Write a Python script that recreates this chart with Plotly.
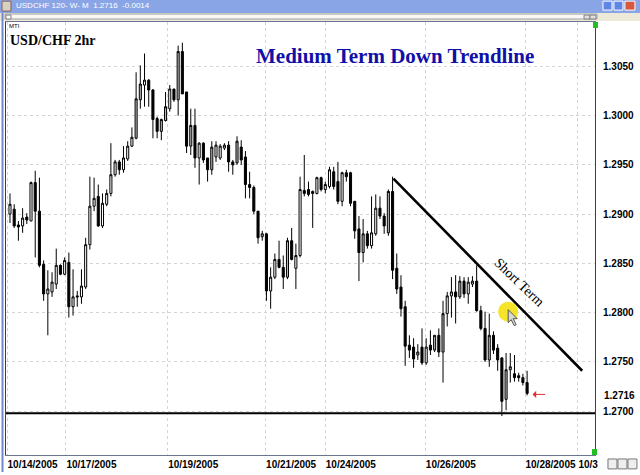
import plotly.graph_objects as go

# ---------------- data (USD/CHF 2-hour candles) ----------------
opens = [1.2900, 1.2905, 1.2889, 1.2888, 1.2897, 1.2893, 1.2932, 1.2903, 1.2849, 1.2819,
         1.2821, 1.2829, 1.2848, 1.2839, 1.2851, 1.2806, 1.2817, 1.2816, 1.2826, 1.2869,
         1.2908, 1.2918, 1.2888, 1.2910, 1.2921, 1.2940, 1.2953, 1.2945, 1.2956, 1.2969,
         1.2977, 1.3016, 1.3031, 1.3036, 1.3026, 1.2997, 1.2984, 1.2995, 1.3007, 1.3027,
         1.3016, 1.3065, 1.3024, 1.2969, 1.2990, 1.2957, 1.2972, 1.2957, 1.2945, 1.2958,
         1.2957, 1.2967, 1.2970, 1.2953, 1.2952, 1.2968, 1.2958, 1.2930, 1.2927, 1.2903,
         1.2877, 1.2880, 1.2822, 1.2836, 1.2854, 1.2846, 1.2836, 1.2873, 1.2845, 1.2858,
         1.2924, 1.2925, 1.2923, 1.2921, 1.2937, 1.2925, 1.2928, 1.2943, 1.2933, 1.2913,
         1.2942, 1.2942, 1.2913, 1.2885, 1.2861, 1.2880, 1.2868, 1.2880, 1.2906, 1.2898,
         1.2881, 1.2923, 1.2845, 1.2826, 1.2806, 1.2767, 1.2765, 1.2757, 1.2765, 1.2749,
         1.2767, 1.2762, 1.2777, 1.2760, 1.2799, 1.2817, 1.2821, 1.2816, 1.2832, 1.2819,
         1.2829, 1.2832, 1.2802, 1.2784, 1.2752, 1.2777, 1.2764, 1.2754, 1.2712, 1.2742,
         1.2738, 1.2736, 1.2734, 1.2729]
highs = [1.2921, 1.2910, 1.2893, 1.2906, 1.2901, 1.2933, 1.2944, 1.2937, 1.2853, 1.2843,
         1.2841, 1.2865, 1.2849, 1.2856, 1.2861, 1.2844, 1.2822, 1.2844, 1.2876, 1.2938,
         1.2937, 1.2930, 1.2921, 1.2925, 1.2972, 1.2955, 1.2955, 1.2969, 1.2974, 1.2988,
         1.3044, 1.3051, 1.3063, 1.3037, 1.3027, 1.2999, 1.2997, 1.3024, 1.3031, 1.3027,
         1.3071, 1.3074, 1.3024, 1.3007, 1.3007, 1.2973, 1.2973, 1.2957, 1.2974, 1.2974,
         1.2971, 1.2972, 1.2974, 1.2955, 1.2979, 1.2975, 1.2964, 1.2943, 1.2929, 1.2903,
         1.2883, 1.2881, 1.2846, 1.2860, 1.2873, 1.2858, 1.2876, 1.2886, 1.2870, 1.2938,
         1.2960, 1.2933, 1.2924, 1.2938, 1.2938, 1.2933, 1.2948, 1.2948, 1.2953, 1.2943,
         1.2945, 1.2943, 1.2913, 1.2898, 1.2895, 1.2883, 1.2918, 1.2920, 1.2918, 1.2901,
         1.2925, 1.2938, 1.2860, 1.2838, 1.2812, 1.2777, 1.2774, 1.2768, 1.2784, 1.2774,
         1.2782, 1.2777, 1.2784, 1.2812, 1.2821, 1.2836, 1.2838, 1.2837, 1.2836, 1.2836,
         1.2837, 1.2848, 1.2807, 1.2801, 1.2799, 1.2781, 1.2768, 1.2755, 1.2759, 1.2759,
         1.2757, 1.2739, 1.2738, 1.2741]
lows = [1.2891, 1.2886, 1.2873, 1.2881, 1.2890, 1.2893, 1.2856, 1.2846, 1.2812, 1.2777,
        1.2816, 1.2824, 1.2838, 1.2838, 1.2795, 1.2797, 1.2806, 1.2809, 1.2824, 1.2864,
        1.2903, 1.2887, 1.2886, 1.2908, 1.2918, 1.2938, 1.2940, 1.2942, 1.2954, 1.2968,
        1.2976, 1.3007, 1.3009, 1.3009, 1.2977, 1.2977, 1.2975, 1.2994, 1.3004, 1.3014,
        1.3000, 1.3022, 1.2962, 1.2960, 1.2947, 1.2930, 1.2952, 1.2933, 1.2940, 1.2953,
        1.2955, 1.2965, 1.2943, 1.2940, 1.2950, 1.2950, 1.2916, 1.2916, 1.2900, 1.2870,
        1.2873, 1.2812, 1.2804, 1.2834, 1.2845, 1.2824, 1.2834, 1.2853, 1.2824, 1.2856,
        1.2918, 1.2918, 1.2886, 1.2920, 1.2923, 1.2921, 1.2926, 1.2925, 1.2910, 1.2908,
        1.2933, 1.2908, 1.2875, 1.2832, 1.2851, 1.2865, 1.2865, 1.2878, 1.2895, 1.2880,
        1.2878, 1.2834, 1.2819, 1.2796, 1.2746, 1.2754, 1.2744, 1.2752, 1.2747, 1.2747,
        1.2757, 1.2760, 1.2755, 1.2729, 1.2786, 1.2795, 1.2789, 1.2814, 1.2815, 1.2809,
        1.2826, 1.2801, 1.2782, 1.2750, 1.2745, 1.2758, 1.2741, 1.2695, 1.2701, 1.2729,
        1.2730, 1.2730, 1.2726, 1.2716]
closes = [1.2910, 1.2888, 1.2887, 1.2896, 1.2894, 1.2932, 1.2903, 1.2848, 1.2819, 1.2824,
          1.2831, 1.2848, 1.2839, 1.2853, 1.2806, 1.2816, 1.2816, 1.2827, 1.2869, 1.2908,
          1.2916, 1.2888, 1.2911, 1.2921, 1.2940, 1.2953, 1.2945, 1.2957, 1.2969, 1.2978,
          1.3017, 1.3032, 1.3036, 1.3026, 1.2996, 1.2984, 1.2996, 1.3009, 1.3027, 1.3016,
          1.3065, 1.3022, 1.2969, 1.2990, 1.2957, 1.2972, 1.2955, 1.2945, 1.2968, 1.2970,
          1.2969, 1.2970, 1.2953, 1.2950, 1.2974, 1.2955, 1.2930, 1.2927, 1.2903, 1.2876,
          1.2880, 1.2822, 1.2836, 1.2854, 1.2846, 1.2836, 1.2873, 1.2854, 1.2858, 1.2925,
          1.2921, 1.2920, 1.2921, 1.2937, 1.2925, 1.2930, 1.2945, 1.2928, 1.2913, 1.2942,
          1.2938, 1.2911, 1.2883, 1.2861, 1.2880, 1.2868, 1.2881, 1.2906, 1.2898, 1.2888,
          1.2923, 1.2843, 1.2824, 1.2804, 1.2766, 1.2762, 1.2753, 1.2760, 1.2749, 1.2765,
          1.2762, 1.2777, 1.2760, 1.2799, 1.2817, 1.2821, 1.2816, 1.2832, 1.2819, 1.2831,
          1.2832, 1.2802, 1.2784, 1.2752, 1.2777, 1.2762, 1.2752, 1.2710, 1.2742, 1.2745,
          1.2734, 1.2734, 1.2729, 1.2718]
gray_up = [30, 31, 36, 37, 40, 43, 48, 54, 66, 84, 90, 101, 103, 107, 114, 118]

date_pos = [-0.7, 13.3, 37.5, 60.8, 75.0, 98.8, 122.5, 135.1]
date_labels = ["10/14/2005", "10/17/2005", "10/19/2005", "10/21/2005",
               "10/24/2005", "10/26/2005", "10/28/2005", "10/3"]
price_ticks = [1.2700, 1.2750, 1.2800, 1.2850, 1.2900, 1.2950, 1.3000, 1.3050]
last_price = 1.2716
support_level = 1.2698
trend_x = [91.2, 136.1]
trend_y = [1.2936, 1.2741]
trend_label_pos = (121.2, 1.2831)
cursor_pos = (118.5, 1.2801)
arrow_pos = (124.3, 1.2717)

# ---------------- figure ----------------
idx = list(range(len(opens)))
main_i = [i for i in idx if i not in gray_up]
gray_i = gray_up

fig = go.Figure()


def candle(ids, up_fill):
    return go.Candlestick(
        x=ids,
        open=[opens[i] for i in ids], high=[highs[i] for i in ids],
        low=[lows[i] for i in ids], close=[closes[i] for i in ids],
        increasing=dict(fillcolor=up_fill, line=dict(color="#000000", width=1)),
        decreasing=dict(fillcolor="#000000", line=dict(color="#000000", width=1)),
        whiskerwidth=0, showlegend=False, hoverinfo="skip")


fig.add_trace(candle(main_i, "#ffffff"))
fig.add_trace(candle(gray_i, "#b8b8b8"))

fig.add_trace(go.Scatter(x=trend_x, y=trend_y, mode="lines",
                         line=dict(color="#000000", width=2.6),
                         showlegend=False, hoverinfo="skip"))

PL, PR, PT, PB = 5, 595, 22, 458


def px_x(x):
    return (x - PL) / (PR - PL)


def px_y(y):
    return (PB - y) / (PB - PT)


shapes = []
# support line
shapes.append(dict(type="line", xref="paper", yref="y", x0=0, x1=1,
                   y0=support_level, y1=support_level,
                   line=dict(color="#000000", width=2)))
# yellow cursor highlight
shapes.append(dict(type="circle", xref="x", yref="y", xsizemode="pixel", ysizemode="pixel",
                   xanchor=cursor_pos[0], yanchor=cursor_pos[1],
                   x0=-10, x1=10, y0=-10, y1=10,
                   fillcolor="#f4e31e", line=dict(width=0), opacity=0.95))
shapes.append(dict(type="path", xref="x", yref="y", xsizemode="pixel", ysizemode="pixel",
                   xanchor=cursor_pos[0], yanchor=cursor_pos[1],
                   path="M0,2 L0,-11 L3,-8 L6,-14 L8,-13 L5,-7 L9,-7 Z",
                   fillcolor="#d8d8d8", line=dict(color="#555555", width=1)))


def rect(x0, y0, x1, y1, fill, line=None, lw=0):
    shapes.append(dict(type="rect", xref="paper", yref="paper",
                       x0=px_x(x0), x1=px_x(x1), y0=px_y(y1), y1=px_y(y0),
                       fillcolor=fill, line=dict(color=line or fill, width=lw), layer="above"))


# window chrome
rect(-6, -2, 646, 13, "#8aa5e6")
rect(1, 1, 10, 11, "#d8d0c0", "#806060", 1)
rect(603, 1, 612, 10, "#5f86e6", "#ffffff", 1)
rect(614, 1, 623, 10, "#5f86e6", "#ffffff", 1)
rect(625, 1, 635, 10, "#d8583e", "#ffffff", 1)
rect(-6, 13, 646, 21, "#ece9d8")
rect(4, 14, 597, 19, "#f8f8f4", "#a0a0a0", 1)
rect(5, 15, 10, 19, "#ffffff", "#808080", 1)
rect(584, 15, 590, 19, "#e0e0e0", "#808080", 1)
rect(590, 15, 596, 19, "#e0e0e0", "#808080", 1)
rect(593, 22, 598, 28, "#20c020")
rect(592, 452, 597, 458, "#20c020")
rect(608, 462, 617, 472, "#eeeeee", "#777777", 1)
rect(618, 462, 627, 472, "#eeeeee", "#777777", 1)
rect(628, 462, 637, 472, "#eeeeee", "#777777", 1)
shapes.append(dict(type="line", xref="paper", yref="paper", x0=px_x(1.5), x1=px_x(1.5),
                   y0=px_y(475), y1=px_y(13), line=dict(color="#6f88cf", width=2)))

annotations = [
    dict(text="Medium Term Down Trendline", xref="paper", yref="paper",
         x=px_x(395), y=px_y(56), showarrow=False, xanchor="center", yanchor="middle",
         font=dict(family="Liberation Serif, Times New Roman, serif", size=21,
                   color="#1010a8", weight="bold")),
    dict(text="USD/CHF 2hr", xref="paper", yref="paper",
         x=px_x(7), y=px_y(40.5), showarrow=False, xanchor="left", yanchor="middle",
         font=dict(family="Liberation Serif, Times New Roman, serif", size=14,
                   color="#000000", weight="bold")),
    dict(text="MTI", xref="paper", yref="paper",
         x=px_x(6), y=px_y(26.5), showarrow=False, xanchor="left", yanchor="middle",
         font=dict(family="Liberation Sans, Arial, sans-serif", size=6, color="#000000")),
    dict(text="USDCHF 120- W- M  1.2716  -0.0014", xref="paper", yref="paper",
         x=px_x(13), y=px_y(5.5), showarrow=False, xanchor="left", yanchor="middle",
         font=dict(family="Liberation Sans, Arial, sans-serif", size=8, color="#ffffff")),
    dict(text="Short Term", x=trend_label_pos[0], y=trend_label_pos[1], xref="x", yref="y",
         showarrow=False, textangle=44,
         font=dict(family="Liberation Serif, Times New Roman, serif", size=14, color="#000000")),
    dict(text=f"{last_price:.4f}", xref="paper", yref="y", x=1, y=last_price,
         xanchor="left", yanchor="middle", xshift=7, showarrow=False,
         font=dict(family="Liberation Sans, Arial, sans-serif", size=10,
                   color="#000000", weight="bold")),
    dict(text="", x=arrow_pos[0], y=arrow_pos[1], xref="x", yref="y",
         ax=14, ay=0, showarrow=True, arrowhead=1, arrowsize=1.2, arrowwidth=1,
         arrowcolor="#e03030"),
]

tickfont = dict(family="Liberation Sans, Arial, sans-serif", size=10,
                color="#000000", weight="bold")

fig.update_layout(
    width=640, height=475, autosize=False,
    margin=dict(l=PL, r=640 - PR, t=PT, b=475 - PB, pad=0),
    paper_bgcolor="#ffffff", plot_bgcolor="#ffffff",
    shapes=shapes, annotations=annotations, showlegend=False,
    xaxis=dict(range=[-0.95, 139.15], tickmode="array", tickvals=date_pos,
               ticktext=date_labels, ticklabelposition="outside right",
               tickfont=tickfont, ticks="", showgrid=True, gridcolor="#d4d4d4",
               griddash="dot", gridwidth=1, zeroline=False, showline=True,
               linecolor="#6a7590", linewidth=1, mirror=True,
               rangeslider=dict(visible=False), ticklabelstandoff=0),
    yaxis=dict(side="right", range=[1.26555, 1.30950], tickmode="array",
               tickvals=price_ticks, ticktext=[f"{v:.4f}" for v in price_ticks],
               tickfont=tickfont, ticks="", showgrid=True, gridcolor="#d4d4d4",
               griddash="dot", gridwidth=1, zeroline=False, showline=True,
               linecolor="#404040", linewidth=1, mirror=True, ticklabelstandoff=5),
)

fig.write_html("out.html",
               config={"displayModeBar": False, "staticPlot": True},
               post_script="document.body.style.margin='0';document.body.style.padding='0';")
